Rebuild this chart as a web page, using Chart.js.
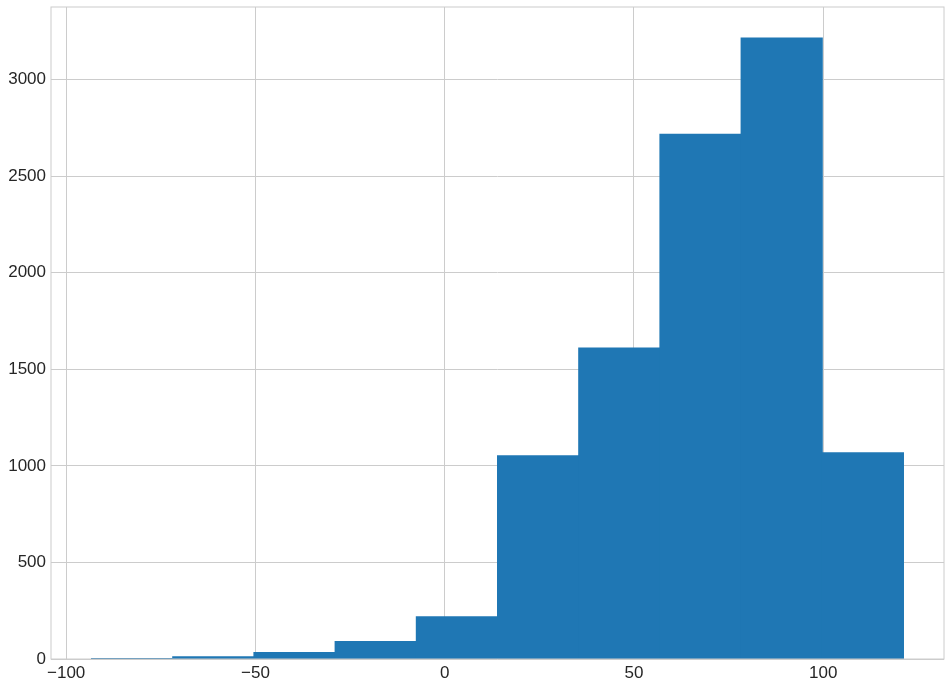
<!DOCTYPE html>
<html>
<head>
<meta charset="utf-8">
<script src="https://cdn.jsdelivr.net/npm/chart.js@4"></script>
<style>
  html, body { margin: 0; padding: 0; background: #fff; }
  #wrap { width: 951px; height: 687px; }
</style>
</head>
<body>
<div id="wrap"><canvas id="chart" width="951" height="687"></canvas></div>
<script>
// histogram bins
const binEdges = [-93.3, -71.85, -50.4, -28.95, -7.5, 13.95, 35.4, 56.85, 78.3, 99.75, 121.2];
const counts = [1, 12, 33, 90, 219, 1052, 1610, 2716, 3214, 1067];
const xTicks = [-100, -50, 0, 50, 100];
const yTicks = [0, 500, 1000, 1500, 2000, 2500, 3000];

const points = counts.map((c, i) => ({ x: (binEdges[i] + binEdges[i + 1]) / 2, y: c }));

const gridColor = '#cccccc';
const textColor = '#262626';
const font = { family: '"Liberation Sans", Arial, sans-serif', size: 17 };

const fmt = (v) => (v < 0 ? '\u2212' + Math.abs(v) : String(v));

// light grey frame on all four sides, like matplotlib's spines
const frame = {
  id: 'frame',
  afterDraw(chart) {
    const { ctx, chartArea: a } = chart;
    ctx.save();
    ctx.strokeStyle = gridColor;
    ctx.lineWidth = 1;
    ctx.strokeRect(a.left, a.top, a.right - a.left, a.bottom - a.top);
    ctx.restore();
  },
};

new Chart(document.getElementById('chart'), {
  type: 'bar',
  data: {
    datasets: [{
      data: points,
      backgroundColor: '#1f77b4',
      borderWidth: 0,
      inflateAmount: 0.5, // closes the hairline seams between bins
      barPercentage: 1.0,
      categoryPercentage: 1.0,
    }],
  },
  options: {
    responsive: false,
    animation: false,
    layout: { padding: { left: 0, top: 7, right: 7, bottom: 0 } },
    plugins: { legend: { display: false }, tooltip: { enabled: false } },
    scales: {
      x: {
        type: 'linear',
        offset: false,
        min: -104.0,
        max: 131.9,
        afterBuildTicks: (s) => { s.ticks = xTicks.map((v) => ({ value: v })); },
        afterFit: (s) => { s.height = 28; s.paddingLeft = 0; s.paddingRight = 0; },
        grid: { color: gridColor, lineWidth: 1, drawTicks: false, offset: false },
        border: { display: false },
        ticks: { color: textColor, font, padding: 4, maxRotation: 0, callback: fmt },
      },
      y: {
        type: 'linear',
        min: 0,
        max: 3375,
        afterBuildTicks: (s) => { s.ticks = yTicks.map((v) => ({ value: v })); },
        afterFit: (s) => { s.width = 51; s.paddingTop = 0; s.paddingBottom = 0; },
        grid: { color: gridColor, lineWidth: 1, drawTicks: false },
        border: { display: false },
        ticks: { color: textColor, font, padding: 5, callback: fmt },
      },
    },
  },
  plugins: [frame],
});
</script>
</body>
</html>
